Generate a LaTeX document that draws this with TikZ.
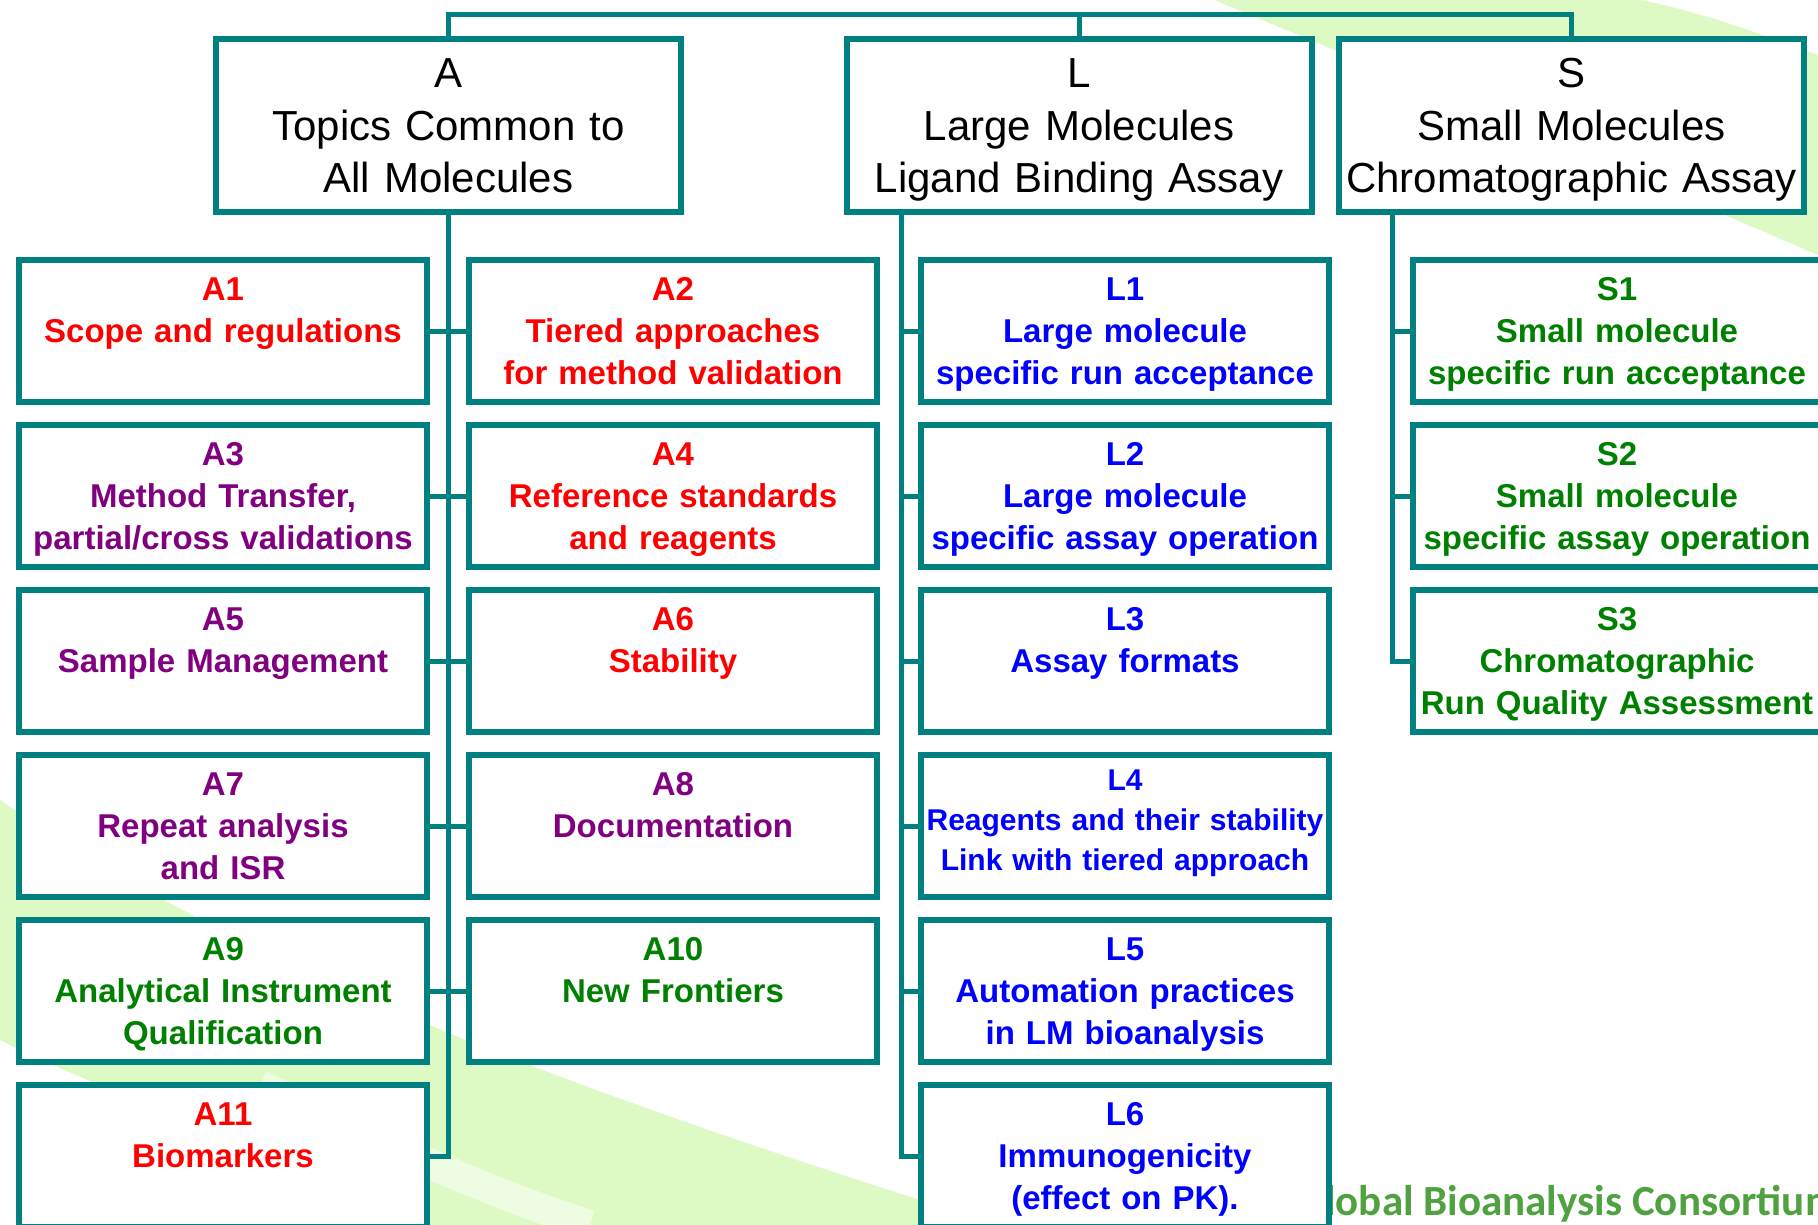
\documentclass[tikz,border=0pt]{standalone}
\usepackage{fontspec}
\setmainfont{Liberation Sans}
\newfontfamily\logofont{Carlito}
\usepackage{xcolor}
\usepackage{tikz}

\definecolor{tealline}{RGB}{0,128,128}
\definecolor{swoosh}{RGB}{222,250,196}
\definecolor{topicred}{RGB}{255,0,0}
\definecolor{topicpurple}{RGB}{128,0,128}
\definecolor{topicblue}{RGB}{0,0,255}
\definecolor{topicgreen}{RGB}{0,128,0}
\definecolor{logogreen}{RGB}{80,162,64}

\begin{document}
\begin{tikzpicture}[x=1pt,y=1pt,yscale=-1,xscale=1,
  headbox/.style={draw=tealline,line width=6pt,fill=white,inner sep=0pt,outer sep=0pt,
    anchor=north,text width=465pt,align=center,text height=49pt,text depth=124pt,
    font=\fontsize{42}{52.5}\selectfont},
  topicbox/.style={draw=tealline,line width=6pt,fill=white,inner sep=0pt,outer sep=0pt,
    anchor=north,text width=408pt,align=center,text height=40pt,text depth=102pt,
    font=\fontsize{33}{42}\selectfont\bfseries},
  link/.style={draw=tealline,line width=5pt}]
\useasboundingbox (0,0) rectangle (1818,1225);
\fill[white] (0,0) rectangle (1818,1225);

%Shape: swoosh top right
\fill[swoosh] (1214,0) .. controls (1420,85) and (1620,170) .. (1818,255) -- (1818,55) .. controls (1750,30) and (1700,12) .. (1640,0) -- cycle ;
%Shape: swoosh bottom left
\fill[swoosh] (0,800) .. controls (220,950) and (500,1070) .. (1000,1225) -- (430,1225) .. controls (300,1160) and (120,1100) .. (0,1040) -- cycle ;
\draw[white,opacity=0.5,line width=30pt] (260,1085) .. controls (400,1150) and (480,1190) .. (590,1225) ;

% Text Node
\node[anchor=base west,inner sep=0pt,text=logogreen,font=\logofont\bfseries\fontsize{43}{43}\selectfont] (logo) at (1325,1215) {lobal Bioanalysis Consortium};

% Group boxes
\node[headbox] (A) at (448.5,39) {A\\Topics Common to\\All Molecules};
\node[headbox] (L) at (1079,39) {L\\Large Molecules\\Ligand Binding Assay};
\node[headbox] (S) at (1571.5,39) {S\\Small Molecules\\Chromatographic Assay};

% Topic boxes A
\node[topicbox,text=topicred] (A1) at (223,260) {A1\\Scope and regulations};
\node[topicbox,text=topicred] (A2) at (673,260) {A2\\Tiered approaches\\for method validation};
\node[topicbox,text=topicpurple] (A3) at (223,425) {A3\\Method Transfer,\\partial/cross validations};
\node[topicbox,text=topicred] (A4) at (673,425) {A4\\Reference standards\\and reagents};
\node[topicbox,text=topicpurple] (A5) at (223,590) {A5\\Sample Management};
\node[topicbox,text=topicred] (A6) at (673,590) {A6\\Stability};
\node[topicbox,text=topicpurple] (A7) at (223,755) {A7\\Repeat analysis\\and ISR};
\node[topicbox,text=topicpurple] (A8) at (673,755) {A8\\Documentation};
\node[topicbox,text=topicgreen] (A9) at (223,920) {A9\\Analytical Instrument\\Qualification};
\node[topicbox,text=topicgreen] (A10) at (673,920) {A10\\New Frontiers};
\node[topicbox,text=topicred] (A11) at (223,1085) {A11\\Biomarkers};

% Topic boxes L
\node[topicbox,text=topicblue] (L1) at (1125,260) {L1\\Large molecule\\specific run acceptance};
\node[topicbox,text=topicblue] (L2) at (1125,425) {L2\\Large molecule\\specific assay operation};
\node[topicbox,text=topicblue] (L3) at (1125,590) {L3\\Assay formats};
\node[topicbox,text=topicblue,font=\fontsize{30}{40}\selectfont\bfseries,text height=35pt,text depth=107pt] (L4) at (1125,755) {L4\\Reagents and their stability\\Link with tiered approach};
\node[topicbox,text=topicblue] (L5) at (1125,920) {L5\\Automation practices\\in LM bioanalysis};
\node[topicbox,text=topicblue] (L6) at (1125,1085) {L6\\Immunogenicity\\(effect on PK).};

% Topic boxes S
\node[topicbox,text=topicgreen] (S1) at (1617,260) {S1\\Small molecule\\specific run acceptance};
\node[topicbox,text=topicgreen] (S2) at (1617,425) {S2\\Small molecule\\specific assay operation};
\node[topicbox,text=topicgreen] (S3) at (1617,590) {S3\\Chromatographic\\Run Quality Assessment};

% Connectors
\coordinate (bus) at (0,15);
\draw[link] (A.north) |- (bus -| S.north) -- (S.north);
\draw[link] (L.north) -- (bus -| L.north);

\draw[link] (A.south) -- (A.south |- A11.east) -- (A11.east);
\foreach \l/\r in {1/2,3/4,5/6,7/8,9/10}
  \draw[link] (A\l.east) -- (A\r.west);

\coordinate (Lx) at ([xshift=-178pt]L.south);
\draw[link] (Lx) -- (Lx |- L6.west) -- (L6.west);
\foreach \i in {1,...,5}
  \draw[link] (Lx |- L\i.west) -- (L\i.west);

\coordinate (Sx) at ([xshift=-179.5pt]S.south);
\draw[link] (Sx) -- (Sx |- S3.west) -- (S3.west);
\foreach \i in {1,2}
  \draw[link] (Sx |- S\i.west) -- (S\i.west);
\end{tikzpicture}
\end{document}
